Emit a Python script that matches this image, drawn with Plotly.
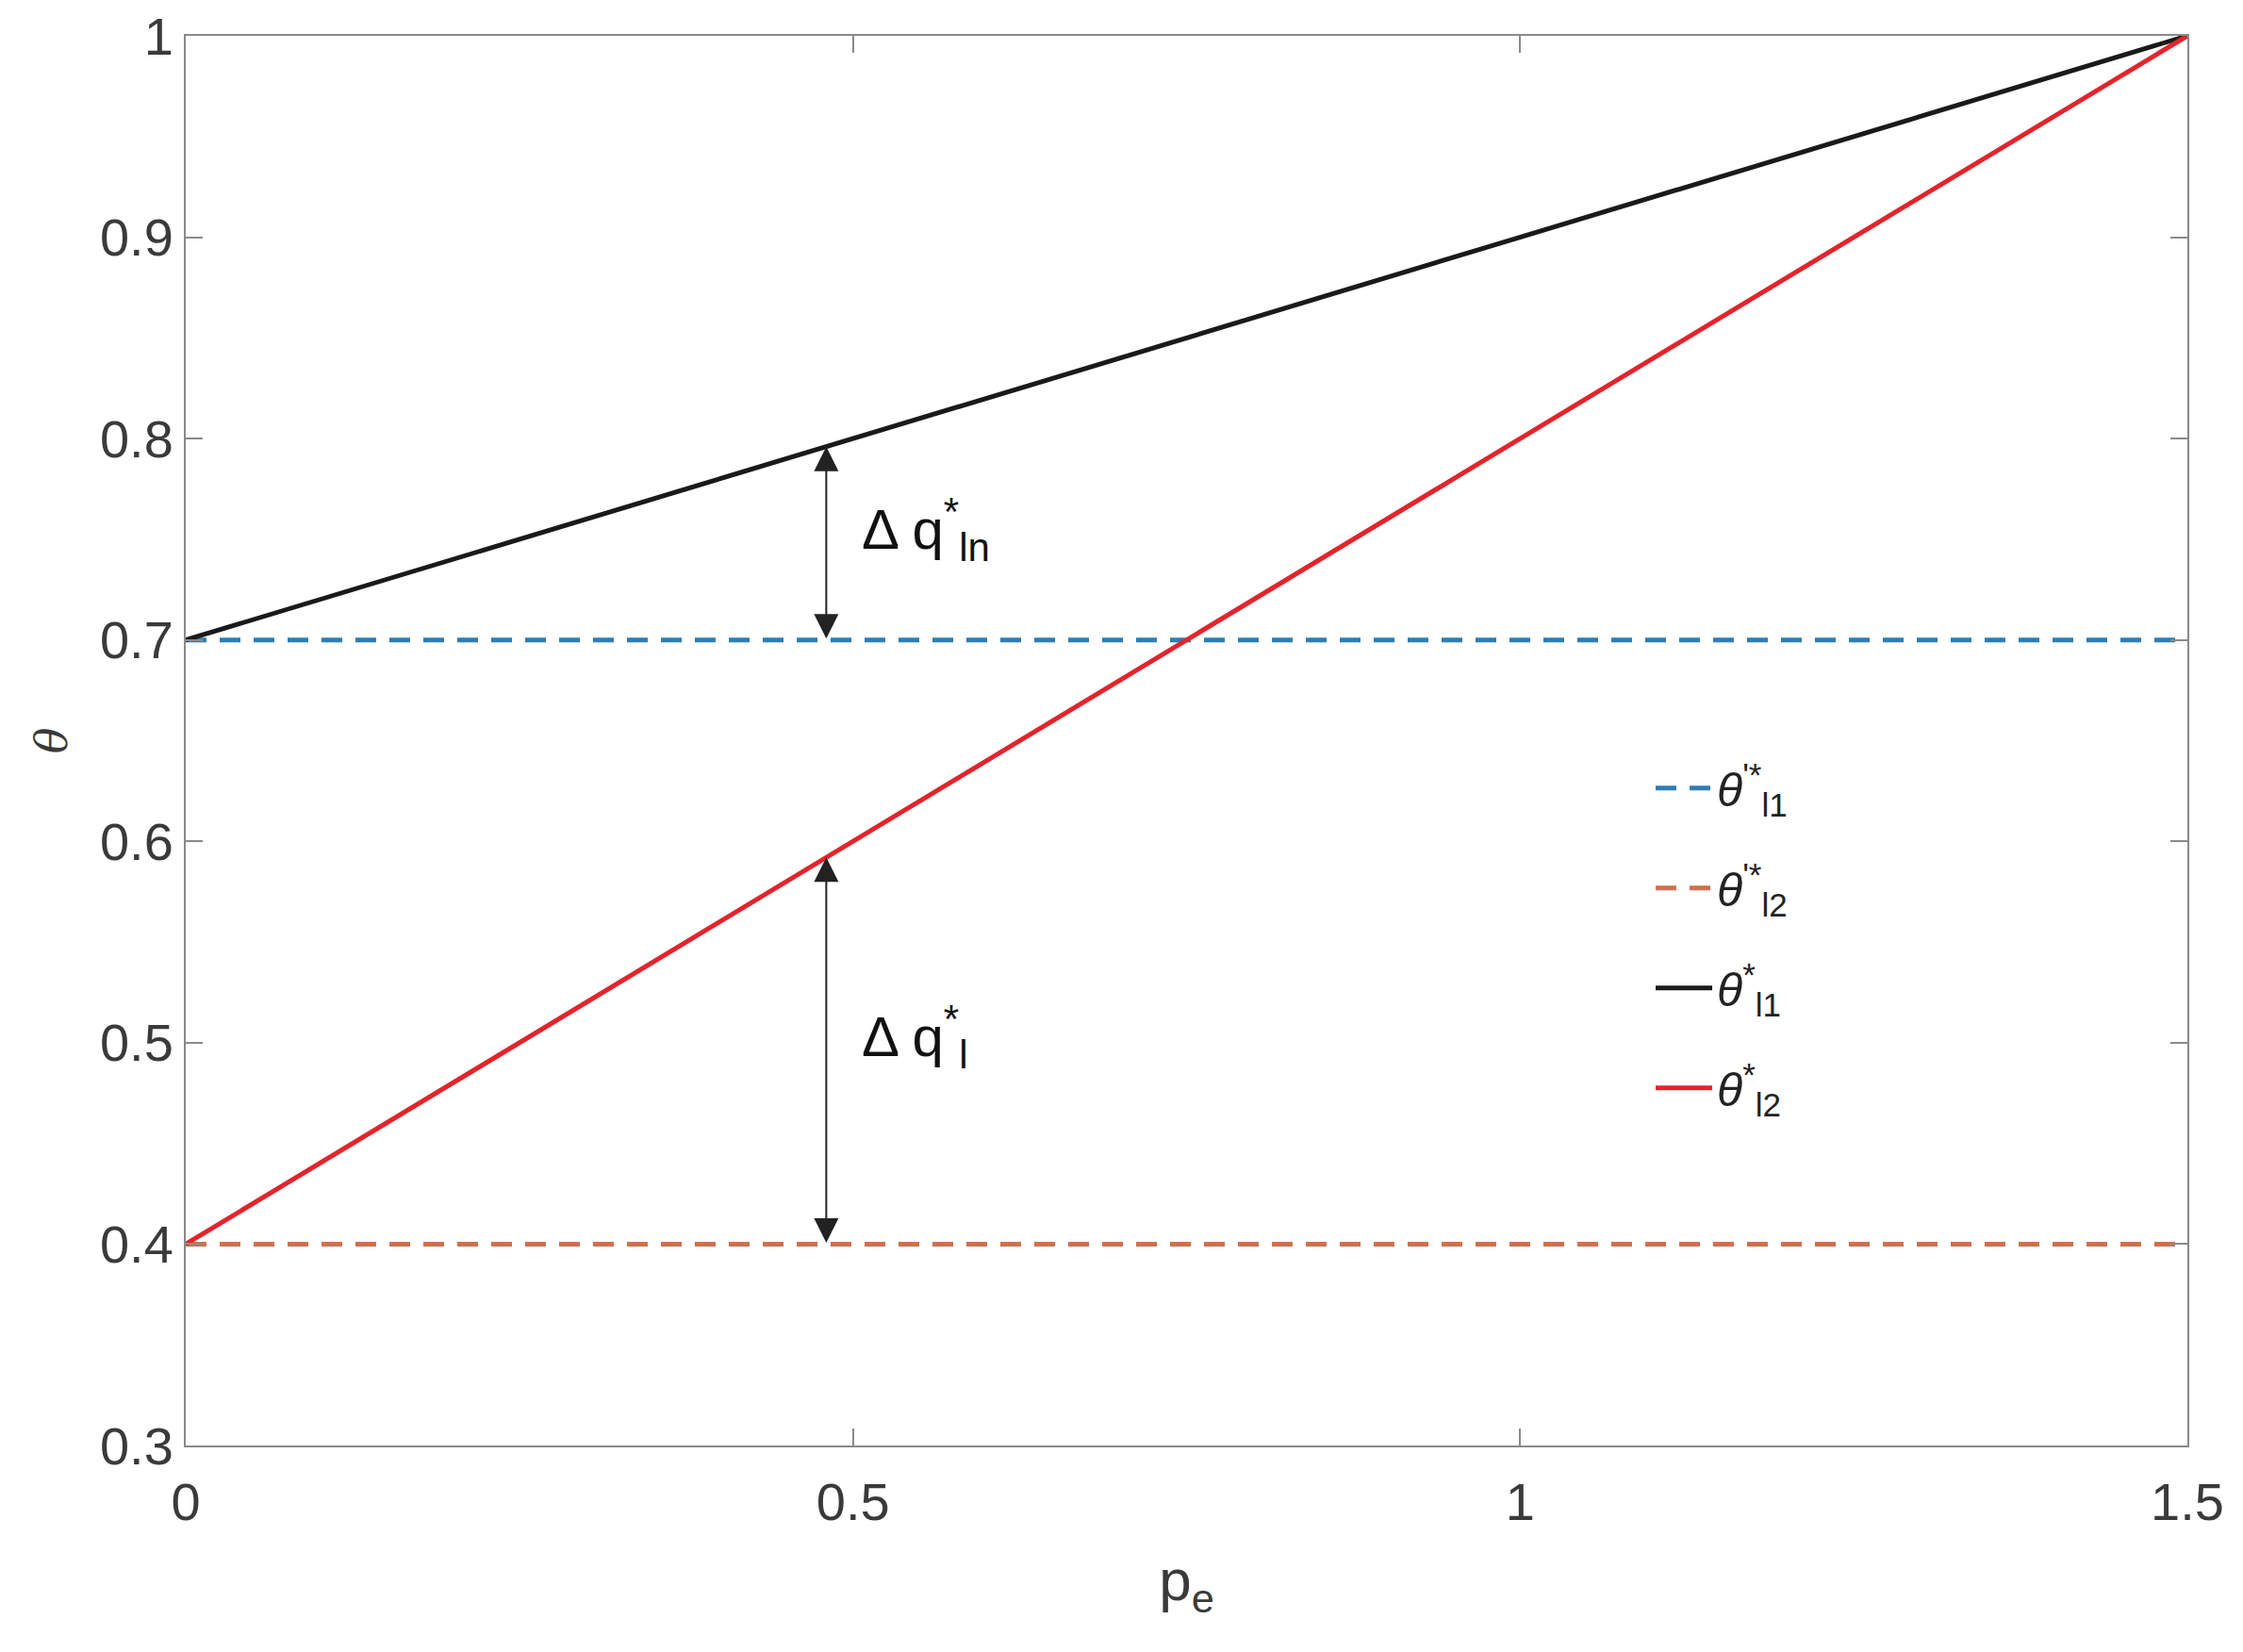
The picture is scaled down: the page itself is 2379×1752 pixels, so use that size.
import numpy as np
import plotly.graph_objects as go

# data
pe = [0, 1.5]
theta_l1_pp = [0.7, 0.7]      # dashed blue
theta_l2_pp = [0.4, 0.4]      # dashed orange
theta_l1_star = [0.7, 1.0]    # solid black
theta_l2_star = [0.4, 1.0]    # solid red

arrow_x = 0.48
label_qln_y = 0.755
label_ql_y = 0.503

x_ticks = [0, 0.5, 1, 1.5]
x_ticktext = ["0", "0.5", "1", "1.5"]
y_ticks = [0.3, 0.4, 0.5, 0.6, 0.7, 0.8, 0.9, 1]
y_ticktext = ["0.3", "0.4", "0.5", "0.6", "0.7", "0.8", "0.9", "1"]

FONT = "Liberation Sans, Arial, sans-serif"
TXT = "#3a3a3a"

fig = go.Figure()

fig.add_trace(go.Scatter(x=pe, y=theta_l1_pp, mode="lines", legendgroup="a",
                         name="<i>θ</i><sup>'*</sup><sub>l1</sub>",
                         line=dict(color="#2f7db5", width=5, dash="22px,14px")))
fig.add_trace(go.Scatter(x=pe, y=theta_l2_pp, mode="lines", legendgroup="b",
                         name="<i>θ</i><sup>'*</sup><sub>l2</sub>",
                         line=dict(color="#d0704f", width=5, dash="22px,14px")))
fig.add_trace(go.Scatter(x=pe, y=theta_l1_star, mode="lines", legendgroup="c",
                         name="<i>θ</i><sup>*</sup><sub>l1</sub>",
                         line=dict(color="#1a1a1a", width=5)))
fig.add_trace(go.Scatter(x=pe, y=theta_l2_star, mode="lines", legendgroup="d",
                         name="<i>θ</i><sup>*</sup><sub>l2</sub>",
                         line=dict(color="#e3242b", width=5)))

# double-headed arrows between the curves
pairs = [(theta_l1_pp, theta_l1_star), (theta_l2_pp, theta_l2_star)]
for lo, hi in pairs:
    y0 = np.interp(arrow_x, pe, lo)
    y1 = np.interp(arrow_x, pe, hi)
    fig.add_annotation(x=arrow_x, y=y1, ax=arrow_x, ay=y0,
                       xref="x", yref="y", axref="x", ayref="y",
                       text="", showarrow=True, arrowhead=2, arrowside="end+start",
                       startarrowhead=2, arrowsize=2.6, startarrowsize=2.6,
                       arrowwidth=2, arrowcolor="#222222")

fig.add_annotation(x=arrow_x + 0.025, y=label_qln_y, xref="x", yref="y",
                   text="Δ q<sup>*</sup><sub>ln</sub>", showarrow=False,
                   xanchor="left", yanchor="middle",
                   font=dict(family=FONT, size=60, color="#111111"))
fig.add_annotation(x=arrow_x + 0.025, y=label_ql_y, xref="x", yref="y",
                   text="Δ q<sup>*</sup><sub>l</sub>", showarrow=False,
                   xanchor="left", yanchor="middle",
                   font=dict(family=FONT, size=60, color="#111111"))

axis_common = dict(showline=True, linecolor="#8a8a8a", linewidth=2, mirror="ticks",
                   ticks="inside", ticklen=18, tickwidth=2, tickcolor="#8a8a8a",
                   showgrid=False, zeroline=False, automargin=False,
                   ticklabeloverflow="allow",
                   tickfont=dict(family=FONT, size=56, color=TXT))

fig.update_xaxes(range=[0, 1.5], tickvals=x_ticks, ticktext=x_ticktext,
                 ticklabelstandoff=10,
                 title=dict(text="p<sub>e</sub>", standoff=30,
                            font=dict(family=FONT, size=62, color=TXT)),
                 **axis_common)
fig.update_yaxes(range=[0.3, 1], tickvals=y_ticks, ticktext=y_ticktext,
                 title=dict(text="<i>θ</i>", standoff=20,
                            font=dict(family="DejaVu Serif, serif", size=46, color=TXT)),
                 **axis_common)

# page body adds an 8px offset, margins compensate for it
fig.update_layout(
    width=2379, height=1752,
    margin=dict(l=189, r=67, t=30, b=227),
    paper_bgcolor="white", plot_bgcolor="white",
    showlegend=True,
    legend=dict(x=0.732, y=0.36, xanchor="left", yanchor="middle",
                bgcolor="rgba(0,0,0,0)", borderwidth=0,
                font=dict(family=FONT, size=50, color="#222222"),
                tracegroupgap=38, itemwidth=60),
)

fig.write_html("out.html")
